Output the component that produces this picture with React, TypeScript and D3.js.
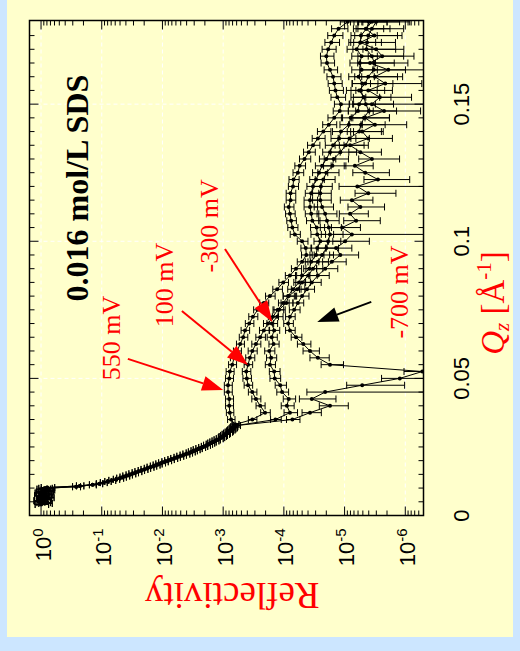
import React from "react";
import * as d3 from "d3";

// low-Q part, grid 1 (550 mV and 100 mV runs): total reflection + Fresnel decay
const lowQ = [
  0.004, 0.0047, 0.0054, 0.0061, 0.0068, 0.0075, 0.0082, 0.0089, 0.0096, 0.0102,
  0.0108, 0.0116, 0.0124, 0.0132, 0.014, 0.0148, 0.0156, 0.0164, 0.0172, 0.018,
  0.0188, 0.0196, 0.0204, 0.0212, 0.022, 0.0228, 0.0236, 0.0244, 0.0252, 0.026,
  0.0268, 0.0276, 0.0284, 0.0292, 0.03, 0.0308, 0.0316, 0.0324, 0.0332,
];
const lowLogR = [
  0.0, -0.03, 0.02, -0.05, -0.02, -0.07, 0.0, -0.08, -0.03, -0.1,
  -0.64, -0.96, -1.1, -1.24, -1.35, -1.45, -1.55, -1.65, -1.75, -1.85,
  -1.94, -2.04, -2.14, -2.24, -2.34, -2.44, -2.52, -2.6, -2.69, -2.77,
  -2.83, -2.9, -2.97, -3.01, -3.06, -3.11, -3.15, -3.18, -3.2,
];
const lowErr = [
  0.25, 0.25, 0.25, 0.25, 0.25, 0.25, 0.25, 0.25, 0.25, 0.25,
  0.14, 0.12, 0.12, 0.12, 0.12, 0.12, 0.12, 0.12, 0.12, 0.12,
  0.12, 0.12, 0.12, 0.12, 0.12, 0.12, 0.12, 0.12, 0.12, 0.12,
  0.12, 0.12, 0.12, 0.13, 0.13, 0.13, 0.13, 0.13, 0.13,
];

// low-Q part, grid 2 (-300 mV and -700 mV runs)
const lowQ2 = [
  0.0044, 0.0051, 0.0058, 0.0065, 0.0072, 0.0079, 0.0086, 0.0093, 0.0099, 0.0105,
  0.0112, 0.012, 0.0128, 0.0136, 0.0144, 0.0152, 0.016, 0.0168, 0.0176, 0.0184,
  0.0192, 0.02, 0.0208, 0.0216, 0.0224, 0.0232, 0.024, 0.0248, 0.0256, 0.0264,
  0.0272, 0.028, 0.0288, 0.0296, 0.0304, 0.0312, 0.032, 0.0328,
];
const lowLogR2 = [
  -0.06, 0.01, -0.04, -0.09, 0.01, -0.05, -0.02, -0.1, -0.06, -0.58,
  -0.85, -1.03, -1.17, -1.3, -1.4, -1.5, -1.6, -1.7, -1.8, -1.9,
  -1.99, -2.09, -2.19, -2.29, -2.39, -2.48, -2.56, -2.65, -2.73, -2.8,
  -2.87, -2.94, -2.99, -3.04, -3.09, -3.13, -3.17, -3.22,
];
const lowErr2 = [
  0.25, 0.25, 0.25, 0.25, 0.25, 0.25, 0.25, 0.25, 0.25, 0.15,
  0.13, 0.13, 0.13, 0.13, 0.13, 0.13, 0.13, 0.13, 0.13, 0.13,
  0.13, 0.13, 0.13, 0.13, 0.13, 0.13, 0.13, 0.13, 0.13, 0.13,
  0.13, 0.13, 0.14, 0.14, 0.14, 0.14, 0.14, 0.14,
];

// Qz grid above 0.035 1/A
const qz = [
  0.035, 0.0375, 0.04, 0.0425, 0.045, 0.0475, 0.05, 0.0525, 0.055, 0.0575,
  0.06, 0.0625, 0.065, 0.0675, 0.07, 0.0725, 0.075, 0.0775, 0.08, 0.0825,
  0.085, 0.0875, 0.09, 0.0925, 0.095, 0.0975, 0.1, 0.1025, 0.105, 0.1075,
  0.11, 0.1125, 0.115, 0.1175, 0.12, 0.1225, 0.125, 0.1275, 0.13, 0.1325,
  0.135, 0.1375, 0.14, 0.1425, 0.145, 0.1475, 0.15, 0.1525, 0.155, 0.1575,
  0.16, 0.1625, 0.165, 0.1675, 0.17, 0.1725, 0.175, 0.1775, 0.18,
];

// log10 of reflectivity
const logR550 = [
  -3.13, -3.11, -3.1, -3.1, -3.08, -3.08, -3.1, -3.11, -3.15, -3.18,
  -3.23, -3.28, -3.33, -3.36, -3.43, -3.49, -3.57, -3.67, -3.77, -3.89,
  -3.99, -4.1, -4.2, -4.3, -4.37, -4.36, -4.3, -4.18, -4.14, -4.12,
  -4.1, -4.08, -4.11, -4.11, -4.15, -4.16, -4.23, -4.26, -4.34, -4.41,
  -4.48, -4.56, -4.65, -4.74, -4.83, -4.92, -4.94, -4.88, -4.85, -4.83,
  -4.81, -4.76, -4.71, -4.7, -4.73, -4.78, -4.83, -4.9, -5.05,
];
const logR100 = [
  -3.48, -3.69, -3.61, -3.54, -3.48, -3.41, -3.39, -3.38, -3.41, -3.44,
  -3.48, -3.54, -3.61, -3.67, -3.74, -3.82, -3.9, -3.99, -4.07, -4.15,
  -4.25, -4.3, -4.42, -4.45, -4.53, -4.55, -4.6, -4.55, -4.54, -4.47,
  -4.45, -4.43, -4.43, -4.45, -4.48, -4.53, -4.58, -4.63, -4.7, -4.76,
  -4.81, -4.91, -4.94, -5.07, -5.1, -5.22, -5.24, -5.31, -5.27, -5.29,
  -5.23, -5.28, -5.25, -5.28, -5.2, -5.26, -5.27, -5.36, -5.4,
];
const logRm300 = [
  -3.86, -4.1, -4.05, -4.08, -3.97, -3.94, -3.85, -3.84, -3.77, -3.79,
  -3.76, -3.83, -3.8, -3.84, -3.8, -3.89, -3.92, -4.04, -4.08, -4.22,
  -4.3, -4.4, -4.48, -4.56, -4.63, -4.7, -4.73, -4.76, -4.74, -4.71,
  -4.68, -4.63, -4.6, -4.6, -4.61, -4.65, -4.7, -4.8, -4.82, -4.93,
  -5.02, -5.08, -5.24, -5.27, -5.32, -5.4, -5.35, -5.32, -5.24, -5.34,
  -5.39, -5.48, -5.49, -5.45, -5.36, -5.37, -5.39, -5.45, -5.52,
];
const logRm700 = [
  -4.14, -4.43, -4.76, -4.46, -4.68, -5.29, -5.91, -6.28, -4.76, -4.56,
  -4.43, -4.32, -4.2, -4.1, -4.07, -4.1, -4.17, -4.23, -4.3, -4.38,
  -4.46, -4.56, -4.68, -4.79, -4.93, -4.86, -5.01, -5.12, -4.96, -5.19,
  -5.09, -5.26, -5.12, -5.39, -5.21, -5.55, -5.34, -5.17, -5.45, -5.26,
  -5.09, -5.39, -5.29, -5.5, -5.34, -5.65, -5.45, -5.58, -5.39, -5.67,
  -5.5, -5.72, -5.42, -5.62, -5.52, -5.26, -5.49, -5.35, -5.45,
];

// relative errors dR/R
const err550 = [
  0.14, 0.14, 0.15, 0.15, 0.15, 0.15, 0.15, 0.15, 0.15, 0.15,
  0.15, 0.15, 0.16, 0.16, 0.16, 0.17, 0.17, 0.17, 0.18, 0.18,
  0.18, 0.19, 0.19, 0.2, 0.2, 0.2, 0.2, 0.19, 0.19, 0.18,
  0.18, 0.18, 0.18, 0.18, 0.19, 0.19, 0.2, 0.2, 0.21, 0.22,
  0.23, 0.24, 0.25, 0.26, 0.27, 0.28, 0.28, 0.27, 0.26, 0.26,
  0.26, 0.25, 0.25, 0.25, 0.26, 0.27, 0.28, 0.3, 0.32,
];
const err100 = [
  0.16, 0.18, 0.17, 0.17, 0.16, 0.16, 0.16, 0.16, 0.16, 0.17,
  0.17, 0.17, 0.18, 0.18, 0.19, 0.19, 0.2, 0.2, 0.21, 0.22,
  0.22, 0.23, 0.24, 0.25, 0.26, 0.27, 0.27, 0.27, 0.26, 0.25,
  0.25, 0.25, 0.25, 0.25, 0.26, 0.27, 0.28, 0.29, 0.3, 0.32,
  0.34, 0.36, 0.38, 0.4, 0.42, 0.44, 0.46, 0.46, 0.46, 0.45,
  0.45, 0.45, 0.45, 0.45, 0.44, 0.44, 0.46, 0.48, 0.5,
];
const errm300 = [
  0.2, 0.25, 0.24, 0.23, 0.22, 0.21, 0.2, 0.2, 0.19, 0.19,
  0.19, 0.19, 0.19, 0.19, 0.2, 0.2, 0.21, 0.22, 0.23, 0.25,
  0.27, 0.29, 0.31, 0.33, 0.35, 0.37, 0.38, 0.39, 0.38, 0.37,
  0.36, 0.35, 0.34, 0.34, 0.35, 0.36, 0.38, 0.4, 0.43, 0.46,
  0.5, 0.53, 0.57, 0.6, 0.62, 0.65, 0.65, 0.64, 0.62, 0.65,
  0.67, 0.7, 0.72, 0.7, 0.67, 0.66, 0.67, 0.7, 0.72,
];
const errm700 = [
  0.25, 0.35, 0.5, 0.6, 1.0, 0.8, 1.0, 1.0, 0.4, 0.35,
  0.3, 0.25, 0.2, 0.18, 0.18, 0.18, 0.2, 0.2, 0.23, 0.25,
  0.3, 0.35, 0.38, 0.42, 0.5, 0.45, 0.6, 1.0, 0.5, 0.6,
  0.5, 0.6, 0.55, 0.65, 1.0, 0.7, 0.6, 0.5, 0.65, 0.55,
  0.5, 0.6, 0.55, 0.7, 0.6, 0.75, 1.0, 0.7, 0.6, 0.75,
  0.65, 0.8, 0.6, 0.7, 0.65, 0.55, 0.65, 0.6, 0.65,
];

const qTicks = [0, 0.05, 0.1, 0.15];
const qTickLabels = ["0", "0.05", "0.1", "0.15"];
const decades = [0, -1, -2, -3, -4, -5, -6];

type Pt = { q: number; r: number; e: number };

const serif = "'Liberation Serif', 'Times New Roman', Times, serif";
const sans = "'Liberation Sans', Arial, Helvetica, sans-serif";

export default function App() {
  // plot is drawn un-rotated (Qz to the right, R downward) and then turned by -90deg
  const W = 495;
  const H = 394;
  const X0 = 29.5;
  const Y0 = 515.5;

  const q = d3.scaleLinear().domain([0, 0.1805]).range([0, W]);
  const r = d3.scaleLog().domain([10 ** 0.19, 10 ** -6.3]).range([0, H]);
  const rMin = 10 ** -6.3;

  const build = (
    lq: number[], lr: number[], le: number[], logR: number[], err: number[]
  ): Pt[] => [
    ...lq.map((v, i) => ({ q: v, r: 10 ** lr[i], e: le[i] })),
    ...qz.map((v, i) => ({ q: v, r: 10 ** logR[i], e: err[i] })),
  ];
  const series = [
    build(lowQ, lowLogR, lowErr, logR550, err550),
    build(lowQ, lowLogR, lowErr, logR100, err100),
    build(lowQ2, lowLogR2, lowErr2, logRm300, errm300),
    build(lowQ2, lowLogR2, lowErr2, logRm700, errm700),
  ];

  const line = d3
    .line<Pt>()
    .x((d) => q(d.q))
    .y((d) => r(d.r));

  const minorQ = d3.range(0, 0.18, 0.005);
  const minorR: number[] = [];
  for (let d = 0; d >= -7; d--) {
    for (let m = 2; m <= 9; m++) {
      const v = m * 10 ** d;
      if (v <= 10 ** 0.19 && v >= rMin) minorR.push(v);
    }
  }

  // arrow helper in data coordinates
  const arrow = (q1: number, l1: number, q2: number, l2: number, color: string, key: string) => {
    const x1 = q(q1), y1 = r(10 ** l1), x2 = q(q2), y2 = r(10 ** l2);
    const a = Math.atan2(y2 - y1, x2 - x1);
    const len = 21, hw = 7.5;
    const bx = x2 - len * Math.cos(a), by = y2 - len * Math.sin(a);
    const p1 = [bx + hw * Math.sin(a), by - hw * Math.cos(a)];
    const p2 = [bx - hw * Math.sin(a), by + hw * Math.cos(a)];
    return (
      <g key={key}>
        <line x1={x1} y1={y1} x2={bx} y2={by} stroke={color} strokeWidth={2} />
        <polygon points={`${x2},${y2} ${p1[0]},${p1[1]} ${p2[0]},${p2[1]}`} fill={color} />
      </g>
    );
  };

  return (
    <svg
      width={520}
      height={651}
      style={{ position: "absolute", left: 0, top: 0 }}
    >
      <rect x={0} y={0} width={520} height={651} fill="#cce6ff" />
      <rect x={7} y={0} width={506} height={637} fill="#ffffcc" />

      <g transform={`translate(${X0},${Y0}) rotate(-90)`}>
        <defs>
          <clipPath id="plotClip">
            <rect x={0} y={0} width={W} height={H} />
          </clipPath>
        </defs>

        {/* grid */}
        {qTicks.slice(1).map((t) => (
          <line key={`gq${t}`} x1={q(t)} x2={q(t)} y1={0} y2={H} stroke="#fff" strokeDasharray="4,3" />
        ))}
        {decades.map((d) => (
          <line key={`gr${d}`} x1={0} x2={W} y1={r(10 ** d)} y2={r(10 ** d)} stroke="#fff" strokeDasharray="4,3" />
        ))}

        {/* data */}
        <g clipPath="url(#plotClip)">
          {series.map((s, si) =>
            s.map((d, i) => {
              const x = q(d.q);
              const lo = d.r * (1 - d.e) > rMin ? d.r * (1 - d.e) : rMin * 0.5;
              const ya = r(d.r * (1 + d.e));
              const yb = r(lo);
              return (
                <g key={`e${si}-${i}`} stroke="#000" strokeWidth={1}>
                  <line x1={x} x2={x} y1={ya} y2={yb} />
                  <line x1={x - 3.5} x2={x + 3.5} y1={ya} y2={ya} />
                  <line x1={x - 3.5} x2={x + 3.5} y1={yb} y2={yb} />
                </g>
              );
            })
          )}
          {series.map((s, si) => (
            <path key={`l${si}`} d={line(s) || ""} fill="none" stroke="#000" strokeWidth={1} />
          ))}
          {series.map((s, si) =>
            s.map((d, i) => (
              <circle key={`m${si}-${i}`} cx={q(d.q)} cy={r(d.r)} r={2} fill="#000" />
            ))
          )}
        </g>

        {/* ticks */}
        <g stroke="#000" strokeWidth={1}>
          {minorQ.map((t, i) => {
            const len = i % 10 === 0 ? 9 : 5;
            return (
              <g key={`tq${i}`}>
                <line x1={q(t)} x2={q(t)} y1={0} y2={len} />
                <line x1={q(t)} x2={q(t)} y1={H} y2={H - len} />
              </g>
            );
          })}
          {decades.map((d) => (
            <g key={`tr${d}`}>
              <line x1={0} x2={9} y1={r(10 ** d)} y2={r(10 ** d)} />
              <line x1={W} x2={W - 9} y1={r(10 ** d)} y2={r(10 ** d)} />
            </g>
          ))}
          {minorR.map((v, i) => (
            <g key={`tm${i}`}>
              <line x1={0} x2={5} y1={r(v)} y2={r(v)} />
              <line x1={W} x2={W - 5} y1={r(v)} y2={r(v)} />
            </g>
          ))}
        </g>
        <rect x={0} y={0} width={W} height={H} fill="none" stroke="#000" strokeWidth={1.5} />

        {/* tick labels */}
        {qTicks.map((t, i) => (
          <text key={`lq${t}`} x={q(t)} y={H + 45} textAnchor="middle" fontFamily={sans} fontSize={22} fill="#000">
            {qTickLabels[i]}
          </text>
        ))}
        {decades.map((d) => (
          <text key={`lr${d}`} x={-13} y={r(10 ** d) + 9.5} textAnchor="end" fontFamily={sans} fontSize={22} fill="#000">
            10
            <tspan dy={-8} fontSize={15}>{d === 0 ? "0" : `-${-d}`}</tspan>
          </text>
        ))}

        {/* axis titles */}
        <text
          transform={`translate(-67.5,${r(10 ** -3.15)}) rotate(-90)`}
          textAnchor="middle"
          fontFamily={serif}
          fontSize={37}
          fill="#ff0000"
        >
          Reflectivity
        </text>
        <text x={q(0.0775)} y={H + 80} textAnchor="middle" fontFamily={serif} fontSize={33} fill="#ff0000">
          <tspan fontStyle="italic">Q</tspan>
          <tspan fontStyle="italic" fontSize={21} dy={5}>z</tspan>
          <tspan dy={-5}> [Å</tspan>
          <tspan fontSize={21} dy={-13}>-1</tspan>
          <tspan dy={13}>]</tspan>
        </text>

        {/* annotations */}
        <text x={q(0.1194)} y={r(10 ** -0.775)} textAnchor="middle" fontFamily={serif} fontWeight="bold" fontSize={32} fill="#000">
          0.016 mol/L SDS
        </text>
        <text x={q(0.0647)} y={r(10 ** -1.3)} textAnchor="middle" fontFamily={serif} fontSize={26} fill="#ff0000">550 mV</text>
        <text x={q(0.0841)} y={r(10 ** -2.17)} textAnchor="middle" fontFamily={serif} fontSize={26} fill="#ff0000">100 mV</text>
        <text x={q(0.1056)} y={r(10 ** -2.92)} textAnchor="middle" fontFamily={serif} fontSize={26} fill="#ff0000">-300 mV</text>
        <text x={q(0.0815)} y={r(10 ** -6.05)} textAnchor="middle" fontFamily={serif} fontSize={26} fill="#ff0000">-700 mV</text>

        {arrow(0.0571, -1.43, 0.0458, -3.0, "#ff0000", "a1")}
        {arrow(0.0746, -2.32, 0.0549, -3.41, "#ff0000", "a2")}
        {arrow(0.0972, -3.03, 0.0706, -3.81, "#ff0000", "a3")}
        {arrow(0.0779, -5.44, 0.0706, -4.55, "#000", "a4")}
      </g>
    </svg>
  );
}
